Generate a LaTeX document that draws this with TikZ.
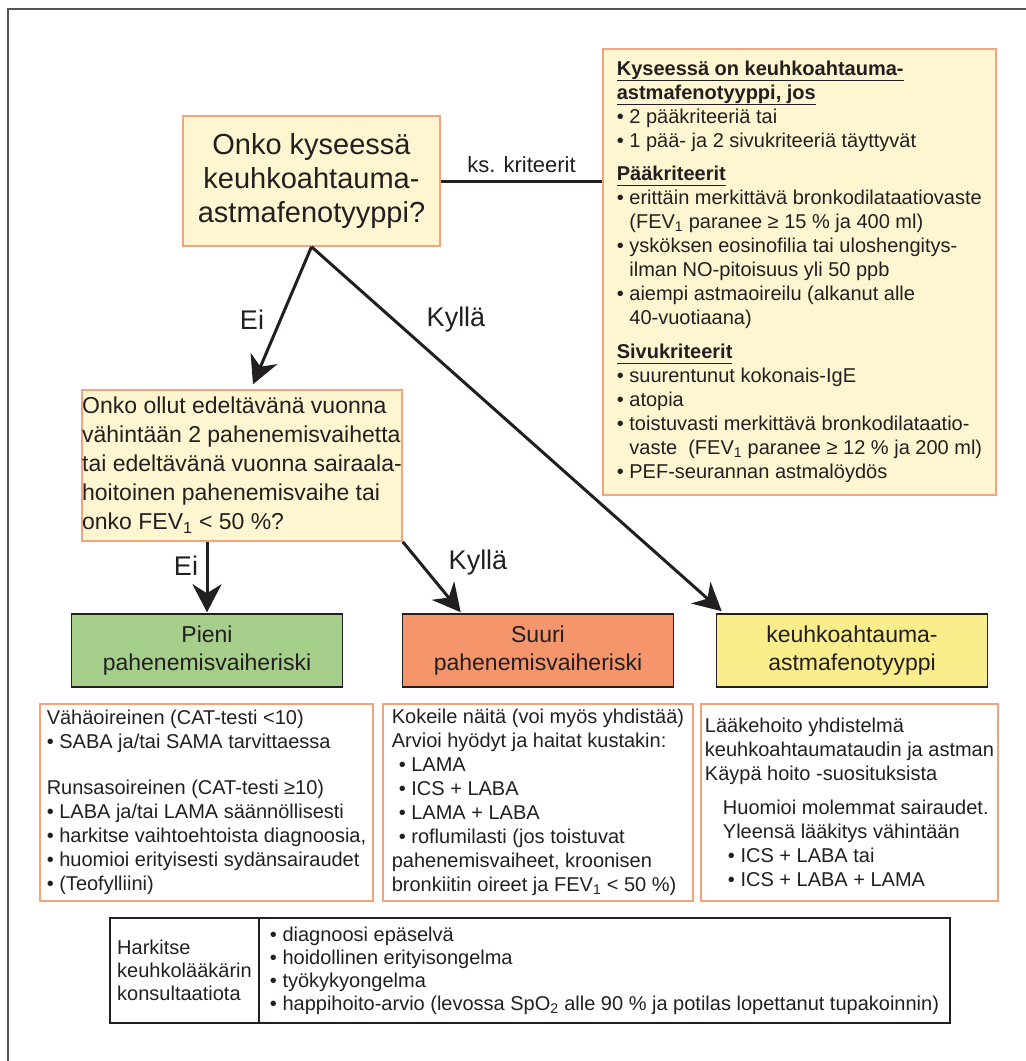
\documentclass[tikz,border=0pt]{standalone}
\usepackage{fontspec}
\setmainfont{Liberation Sans}
\usetikzlibrary{arrows.meta}
\usetikzlibrary{calc}

\definecolor{vaaleakelta}{HTML}{FEF6D0}
\definecolor{lohi}{HTML}{F4A37C}
\definecolor{vihrea}{HTML}{A5CF8B}
\definecolor{oranssi}{HTML}{F4956B}
\definecolor{keltainen}{HTML}{F9ED8C}
\definecolor{tumma}{HTML}{231F20}
\definecolor{kehys}{HTML}{555555}

\newcommand{\bul}{•\ }
\newcommand{\ind}{\hphantom{•\ }}
\newcommand{\alleviiva}[1]{\setbox0\hbox{#1}\rlap{\rule[-5.5pt]{\wd0}{1.5pt}}\box0}

\begin{document}
\begin{tikzpicture}[x=1pt, y=-1pt,
    every node/.style={text=tumma},
    kysymys/.style={draw=lohi, line width=1.5pt, fill=vaaleakelta, inner sep=0pt},
    riski/.style={draw=tumma, line width=1.5pt, minimum width=271pt, minimum height=73pt,
      inner sep=0pt, align=center, font=\fontsize{23}{28}\selectfont},
    hoito/.style={draw=lohi, line width=1.5pt, minimum height=197pt, inner sep=0pt,
      align=left, font=\fontsize{20}{24}\selectfont},
    taulu/.style={draw=tumma, line width=1.5pt, minimum height=105pt, inner sep=0pt,
      align=left, font=\fontsize{20}{23}\selectfont},
    nuoli/.style={draw=tumma, line width=3pt, -{Stealth[length=28pt,width=29pt,inset=9pt]}},
    vastaus/.style={font=\fontsize{27}{32}\selectfont}]
  \useasboundingbox (0,0) rectangle (1026,1061);
  \draw[kehys, line width=2pt] (1026,9) -- (8,9) -- (8,1061);

  % kysymykset
  \node[kysymys, minimum width=257pt, minimum height=130pt, align=center,
    font=\fontsize{29}{34}\selectfont] (q1) at (311.5,181)
    {Onko kyseessä\\keuhkoahtauma-\\astmafenotyyppi?};
  \node[kysymys, minimum width=393pt, minimum height=446pt, align=left,
    font=\fontsize{20}{24}\selectfont] (kriteerit) at (799.5,272)
    {\textbf{\alleviiva{Kyseessä on keuhkoahtauma-}}\\
     \textbf{\alleviiva{astmafenotyyppi, jos}}\\
     \bul 2 pääkriteeriä tai\\
     \bul 1 pää- ja 2 sivukriteeriä täyttyvät\\[9pt]
     \textbf{\alleviiva{Pääkriteerit}}\\
     \bul erittäin merkittävä bronkodilataatiovaste\\
     \ind (FEV\textsubscript{1} paranee ≥ 15 \% ja 400 ml)\\
     \bul ysköksen eosinofilia tai uloshengitys-\\
     \ind ilman NO-pitoisuus yli 50 ppb\\
     \bul aiempi astmaoireilu (alkanut alle\\
     \ind 40-vuotiaana)\\[10pt]
     \textbf{\alleviiva{Sivukriteerit}}\\
     \bul suurentunut kokonais-IgE\\
     \bul atopia\\
     \bul toistuvasti merkittävä bronkodilataatio-\\
     \ind vaste\ \ (FEV\textsubscript{1} paranee ≥ 12 \% ja 200 ml)\\
     \bul PEF-seurannan astmalöydös};
  \node[kysymys, minimum width=320pt, minimum height=151pt, align=left,
    font=\fontsize{23}{29}\selectfont] (q2) at (242,465.5)
    {Onko ollut edeltävänä vuonna\\vähintään 2 pahenemisvaihetta\\tai edeltävänä vuonna sairaala-\\hoitoinen pahenemisvaihe tai\\onko FEV\textsubscript{1} < 50 \%?};

  % riskiluokat
  \node[riski, fill=vihrea] (pieni) at (207,650.5) {Pieni\\pahenemisvaiheriski};
  \node[riski, fill=oranssi] (suuri) at (538,650.5) {Suuri\\pahenemisvaiheriski};
  \node[riski, fill=keltainen] (kaf) at (852,650.5) {keuhkoahtauma-\\astmafenotyyppi};

  % hoidot
  \node[hoito, minimum width=333pt] (hoitoA) at (206.5,802.5)
    {Vähäoireinen (CAT-testi <10)\\
     • SABA ja/tai SAMA tarvittaessa\\[22pt]
     Runsasoireinen (CAT-testi ≥10)\\
     • LABA ja/tai LAMA säännöllisesti\\
     • harkitse vaihtoehtoista diagnoosia,\\
     • huomioi erityisesti sydänsairaudet\\
     • (Teofylliini)};
  \node[hoito, minimum width=310pt] (hoitoB) at (538,802.5)
    {Kokeile näitä (voi myös yhdistää)\\
     Arvioi hyödyt ja haitat kustakin:\\
     \hspace*{7pt}• LAMA\\
     \hspace*{7pt}• ICS + LABA\\
     \hspace*{7pt}• LAMA + LABA\\
     \hspace*{7pt}• roflumilasti (jos toistuvat\\
     pahenemisvaiheet, kroonisen\\
     bronkiitin oireet ja FEV\textsubscript{1} < 50 \%)};
  \node[hoito, minimum width=297pt] (hoitoC) at (849.5,802.5)
    {Lääkehoito yhdistelmä\\
     keuhkoahtaumataudin ja astman\\
     Käypä hoito -suosituksista\\[10pt]
     \hspace*{18pt}Huomioi molemmat sairaudet.\\
     \hspace*{18pt}Yleensä lääkitys vähintään\\
     \hspace*{23pt}• ICS + LABA tai\\
     \hspace*{23pt}• ICS + LABA + LAMA};

  % konsultaatio
  \node[taulu, minimum width=149pt] (konsult) at (184.5,970.5)
    {Harkitse\\keuhkolääkärin\\konsultaatiota};
  \node[taulu, minimum width=691pt] (syyt) at (604.5,970.5)
    {• diagnoosi epäselvä\\
     • hoidollinen erityisongelma\\
     • työkykyongelma\\
     • happihoito-arvio (levossa SpO\textsubscript{2} alle 90 \% ja potilas lopettanut tupakoinnin)};

  % yhteydet
  \draw[tumma, line width=3pt] (q1.east) -- node[above, yshift=3pt, font=\fontsize{22}{26}\selectfont] (ks) {ks. kriteerit} (q1.east -| kriteerit.west);
  \draw[nuoli] (q1.south) -- ([xshift=11pt, yshift=5pt]q2.north);
  \draw[nuoli] (q1.south) -- ([xshift=6pt, yshift=2pt]kaf.north west);
  \draw[nuoli] (q2.south -| pieni.north) -- ([yshift=1pt]pieni.north);
  \draw[nuoli] (q2.south east) -- ([xshift=59pt, yshift=1pt]suuri.north west);

  \node[vastaus] (ei1) at (252,320) {Ei};
  \node[vastaus] (kylla1) at (456,320) {Kyllä};
  \node[vastaus] (ei2) at (186,566) {Ei};
  \node[vastaus] (kylla2) at (478,563) {Kyllä};
\end{tikzpicture}
\end{document}
